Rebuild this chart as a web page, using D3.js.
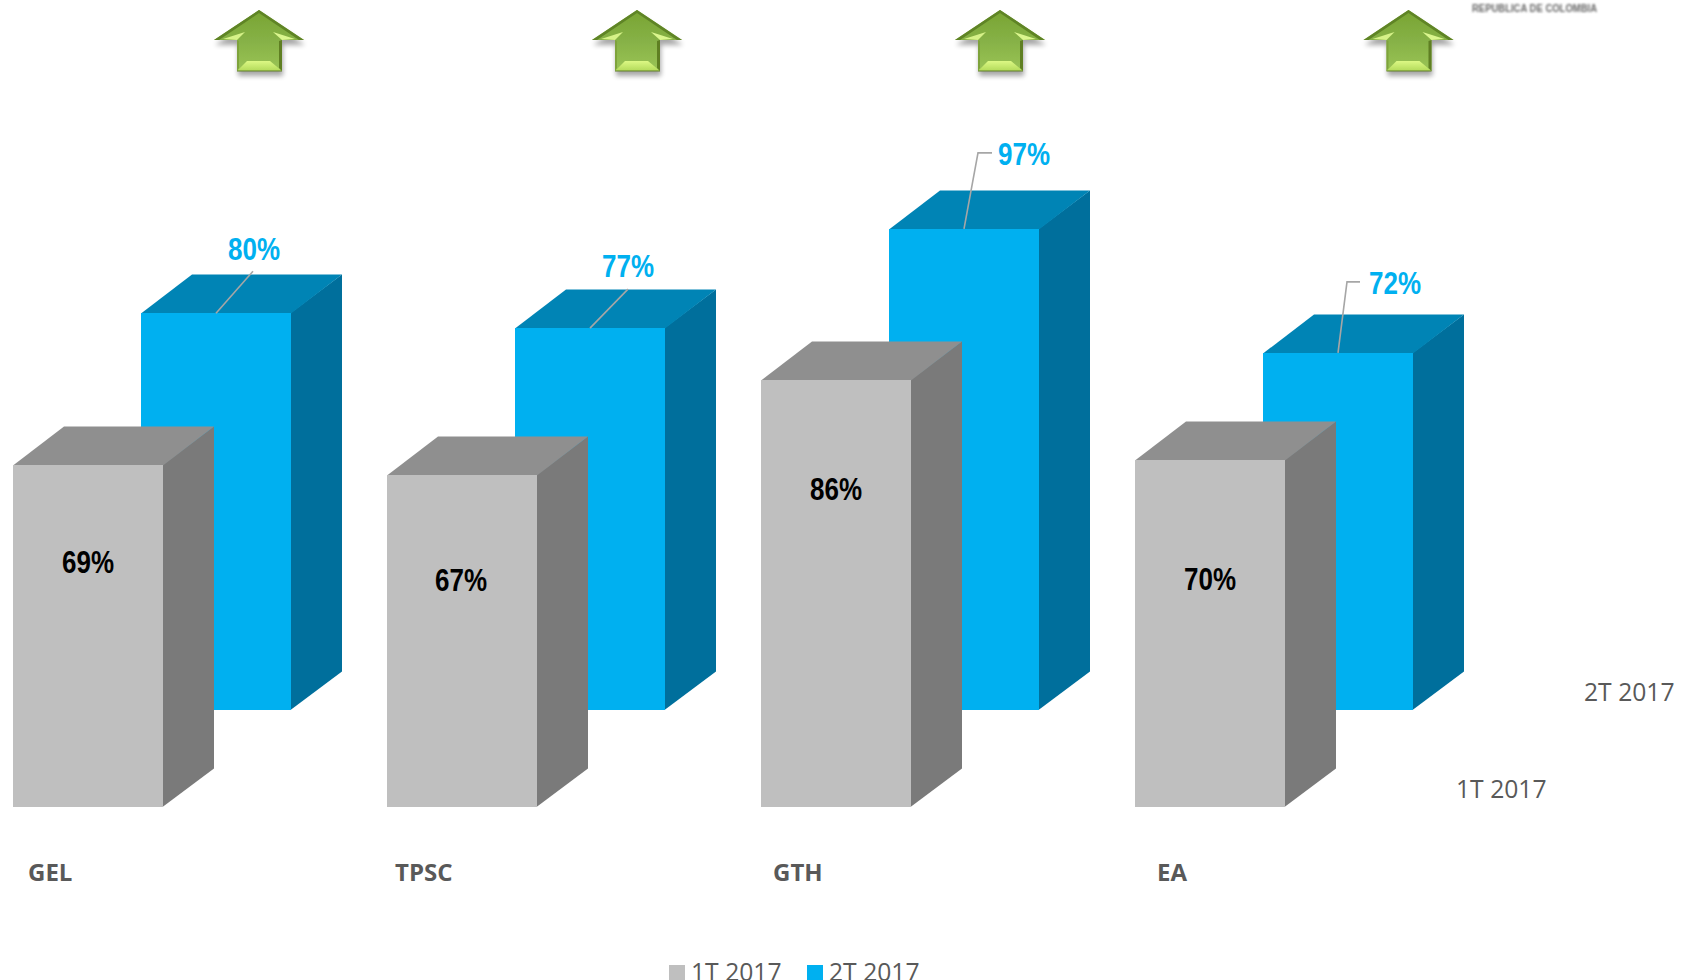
<!DOCTYPE html>
<html><head><meta charset="utf-8">
<script src="https://cdn.jsdelivr.net/npm/d3@7/dist/d3.min.js"></script>
<style>html,body{margin:0;padding:0;background:#fff;overflow:hidden}svg{display:block}</style>
</head><body><svg id="c" width="1682" height="980"></svg>
<script>
const categories = ["GEL","TPSC","GTH","EA"];
const seriesNames = ["1T 2017","2T 2017"];
const values1T = [69,67,86,70];
const values2T = [80,77,97,72];
const arrowCenters = [259,637,1000,1408.5];

const svg = d3.select("#c");
const W=150, DX=51, DY=38.5;
const x = d3.scaleBand().domain(categories).range([13,13+374*4]).paddingInner(0).paddingOuter(0).align(0);
const sx = d3.scalePoint().domain(seriesNames).range([0,128]);
const h = d3.scaleLinear().domain([0,100]).range([0,496]);
const baseY = {"1T 2017":807,"2T 2017":710};
const col = {"1T 2017":{front:"#bfbfbf",top:"#8f8f8f",side:"#7a7a7a"},
             "2T 2017":{front:"#00b0f0",top:"#0084b5",side:"#006f9c"}};

const defs = svg.append("defs");
defs.append("filter").attr("id","blur").append("feGaussianBlur").attr("stdDeviation",1.0);
const soft = defs.append("filter").attr("id","soft").attr("x","-10%").attr("y","-10%").attr("width","120%").attr("height","120%");
soft.append("feGaussianBlur").attr("stdDeviation",0.5);
const sh = defs.append("filter").attr("id","ashadow").attr("x","-30%").attr("y","-30%").attr("width","160%").attr("height","170%");
sh.append("feGaussianBlur").attr("stdDeviation",2.4);
const g1 = defs.append("linearGradient").attr("id","agrad").attr("x1",0).attr("y1",0).attr("x2",0).attr("y2",1);
g1.append("stop").attr("offset","0%").attr("stop-color","#78a432");
g1.append("stop").attr("offset","50%").attr("stop-color","#86b146");
g1.append("stop").attr("offset","100%").attr("stop-color","#9ac456");
const g2 = defs.append("linearGradient").attr("id","abev").attr("x1",0).attr("y1",0).attr("x2",0).attr("y2",1);
g2.append("stop").attr("offset","0%").attr("stop-color","#dcf884");
g2.append("stop").attr("offset","100%").attr("stop-color","#b2da5a");

function drawBars(name, vals){
  const g = svg.append("g").attr("class","bars-"+name);
  const data = categories.map((c,i)=>({c,v:vals[i]}));
  const b = g.selectAll("g").data(data).join("g");
  const X = d=>Math.round(x(d.c)+sx(name)), B = baseY[name], T = d=>Math.round(B-h(d.v));
  b.append("path").attr("fill",col[name].side)
    .attr("d",d=>`M${X(d)+W-0.5},${T(d)}L${X(d)+W+DX},${T(d)-DY}L${X(d)+W+DX},${B-DY}L${X(d)+W-0.5},${B}Z`);
  b.append("path").attr("fill",col[name].top)
    .attr("d",d=>`M${X(d)},${T(d)+0.5}L${X(d)+DX},${T(d)-DY}L${X(d)+W+DX},${T(d)-DY}L${X(d)+W},${T(d)+0.5}Z`);
  b.append("rect").attr("fill",col[name].front)
    .attr("x",X).attr("y",T).attr("width",W).attr("height",d=>B-T(d));
}
drawBars("2T 2017",values2T);
drawBars("1T 2017",values1T);

const leaders = [
  [[0,0],[37,-42]],
  [[0,0],[38,-39]],
  [[0,0],[14,-76],[28,-76]],
  [[0,0],[9,-71],[22,-71]]
];
const line = d3.line();
svg.append("g").selectAll("path").data(categories).join("path")
  .attr("fill","none").attr("stroke","#a6a6a6").attr("stroke-width",1.6)
  .attr("d",(c,i)=>{
    const ox=Math.round(x(c)+sx("2T 2017"))+W/2, oy=baseY["2T 2017"]-h(values2T[i]);
    return line(leaders[i].map(p=>[ox+p[0],oy+p[1]]));
  });

const labelFont = "'Liberation Sans',sans-serif";
const lab2 = [[254,260],[628,277],[1024,165],[1395,294]];
const lab1 = [[88,573],[461,591],[836,500],[1210,590]];
function dataLabels(vals,pos,fill){
  svg.append("g").selectAll("text").data(vals).join("text")
    .attr("x",(d,i)=>pos[i][0]-26).attr("y",(d,i)=>pos[i][1])
    .attr("font-family",labelFont).attr("font-weight",700).attr("font-size",32).attr("fill",fill)
    .attr("textLength",52).attr("lengthAdjust","spacingAndGlyphs")
    .text(d=>d+"%");
}
dataLabels(values2T,lab2,"#00b0f0");
dataLabels(values1T,lab1,"#000");

const catX = [28,395,773,1157];
svg.append("g").selectAll("text").data(categories).join("text")
  .attr("x",(d,i)=>catX[i]).attr("y",881)
  .attr("font-family","'Open Sans',sans-serif").attr("font-weight",700).attr("font-size",24).attr("fill","#595959")
  .text(d=>d);

const depth = [[1584,701],[1456,798]];
svg.append("g").selectAll("text").data(seriesNames.slice().reverse()).join("text")
  .attr("x",(d,i)=>depth[i][0]).attr("y",(d,i)=>depth[i][1])
  .attr("font-family","'Open Sans',sans-serif").attr("font-size",24.7).attr("fill","#595959")
  .text(d=>d);

const legX = [669,807];
const leg = svg.append("g").selectAll("g").data(seriesNames).join("g");
leg.append("rect").attr("x",(d,i)=>legX[i]).attr("y",965).attr("width",16).attr("height",16).attr("fill",d=>col[d].front);
leg.append("text").attr("x",(d,i)=>legX[i]+22).attr("y",981)
  .attr("font-family","'Open Sans',sans-serif").attr("font-size",24.7).attr("fill","#595959").text(d=>d);

const arrows = svg.append("g").selectAll("g").data(arrowCenters).join("g")
  .attr("transform",d=>`translate(${d},10)`);
const outline = "M0,0L45,30L23,30L23,61L-22,61L-22,30L-45,30Z";
arrows.append("path").attr("d",outline).attr("fill","#000").attr("opacity",.34)
  .attr("transform","translate(1,5)").attr("filter","url(#ashadow)");
const a = arrows.append("g").attr("filter","url(#soft)");
a.append("path").attr("d",outline).attr("fill","url(#agrad)");
a.append("path").attr("d","M0,0L45,30L40,30L0,3L-40,30L-45,30Z").attr("fill","#5f8425");
a.append("path").attr("d","M-36,29L-14,22L-22,30Z").attr("fill","#d6f288");
a.append("path").attr("d","M36,29L14,22L23,30Z").attr("fill","#dbf68e");
a.append("path").attr("d","M-22,61L23,61L11,51L-12,51Z").attr("fill","url(#abev)");
a.append("path").attr("d","M23,30L23,61L20,58L20,31Z").attr("fill","#5e7f24");
a.append("path").attr("d","M-22,30L-22,61L-20,58L-20,31Z").attr("fill","#7ea33a");
a.append("path").attr("d","M-22,61L23,61").attr("stroke","#617f2a").attr("stroke-width",1);

svg.append("text").attr("x",1472).attr("y",12).attr("font-family","'Liberation Sans',sans-serif")
  .attr("font-size",11).attr("font-weight",700).attr("fill","#666").attr("filter","url(#blur)")
  .attr("textLength",125).attr("lengthAdjust","spacingAndGlyphs").text("REPUBLICA DE COLOMBIA");
</script></body></html>
